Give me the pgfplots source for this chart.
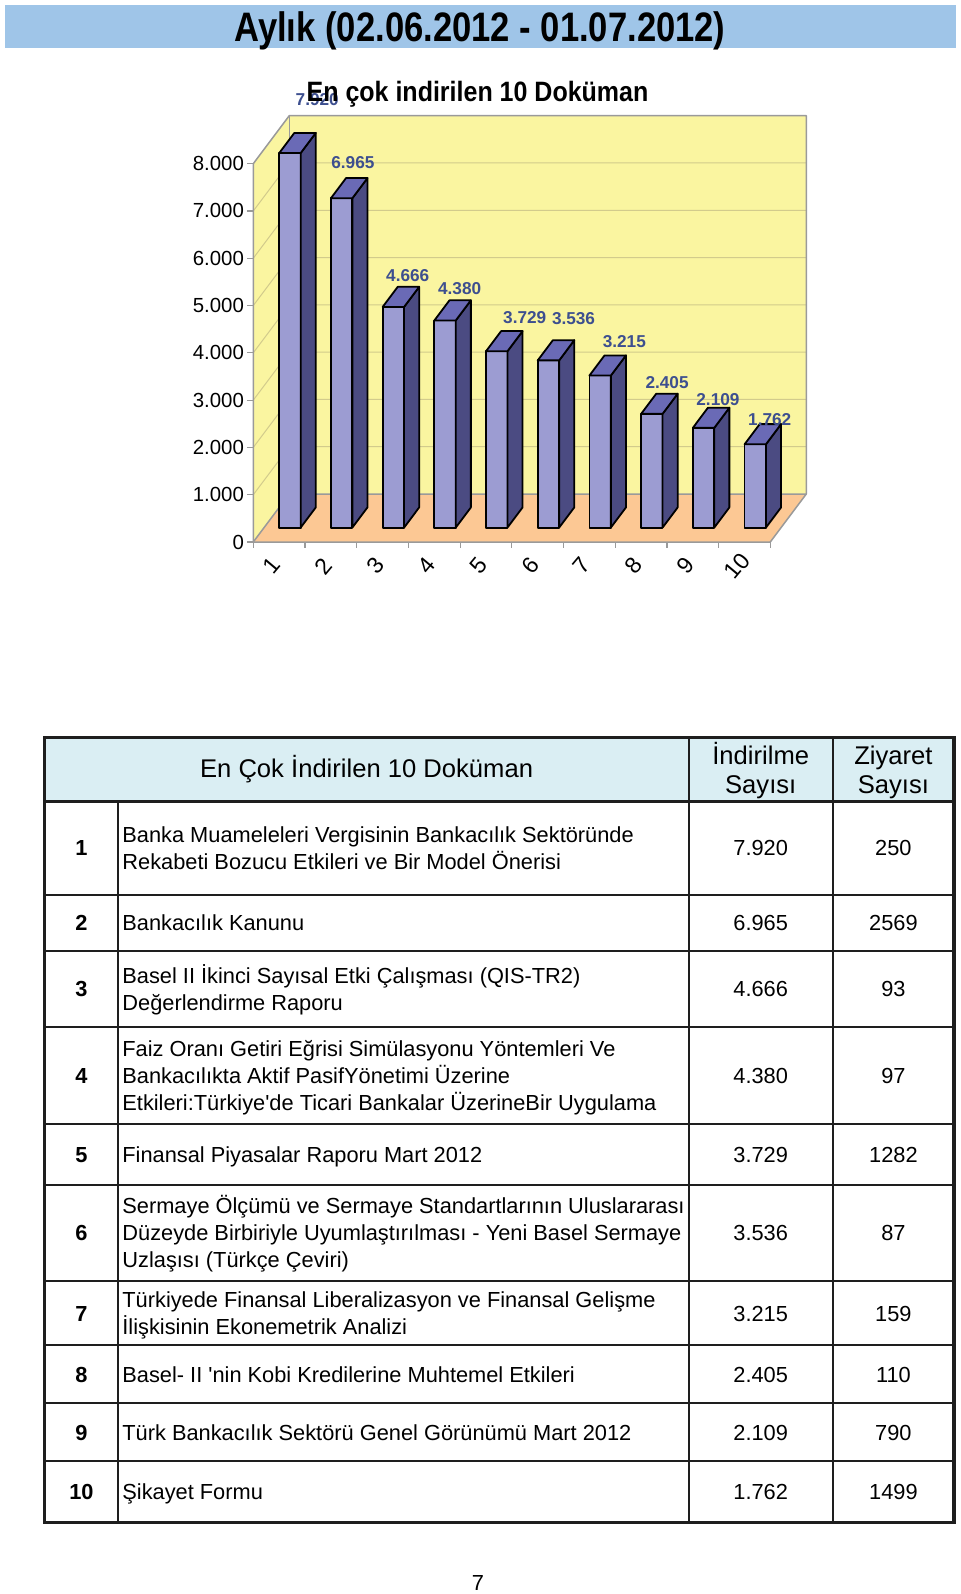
\documentclass[border=0pt]{standalone}
\usepackage{fontspec}
\setmainfont{Liberation Sans}
\usepackage{graphicx}
\usepackage{pgfplots}
\pgfplotsset{compat=1.18}
\usepackage{pgfplotstable}
\definecolor{band}{HTML}{9FC5E8}
\definecolor{hdr}{HTML}{DAEEF3}
\definecolor{wall}{HTML}{FAF5A0}
\definecolor{floorc}{HTML}{FCC894}
\definecolor{gridc}{HTML}{D2CB8C}
\definecolor{edge}{HTML}{9A9A9A}
\definecolor{bfront}{HTML}{9C9CD2}
\definecolor{bside}{HTML}{4B4B82}
\definecolor{btop}{HTML}{6A6AB6}
\definecolor{labc}{HTML}{3D4F8F}
\definecolor{tline}{HTML}{1E1E1E}
\newcommand{\fs}[2]{\fontsize{#1}{#2}\selectfont}
\pgfplotstableread{
i v lab lx ly
1 7920 7.920 1.737 9353
2 6965 6.965 2.426 8021
3 4666 4.666 3.487 5633
4 4380 4.380 4.491 5354
5 3729 3.729 5.750 4752
6 3536 3.536 6.694 4730
7 3215 3.215 7.677 4236
8 2405 2.405 8.503 3375
9 2109 2.109 9.487 3009
10 1762 1.762 10.489 2580
}\bars
\pgfplotsset{
  bfst/.style={draw=black, line width=0.9pt, line join=round, fill=bfront, mark=none, forget plot},
  bsst/.style={draw=black, line width=0.9pt, line join=round, fill=bside, mark=none, forget plot},
  btst/.style={draw=black, line width=0.9pt, line join=round, fill=btop, mark=none, forget plot},
}
\newcommand{\TL}[2]{\node[anchor=base west, inner sep=0pt, font=\fs{10.9}{13}] at (122,-#1) {#2};}
\newcommand{\NUM}[2]{\node[anchor=base, inner sep=0pt, font=\bfseries\fs{10.9}{13}] at (81.4,-#1) {#2};}
\newcommand{\VAL}[3]{\node[anchor=base, inner sep=0pt, font=\fs{10.9}{13}] at (760.7,-#1) {#2};
  \node[anchor=base, inner sep=0pt, font=\fs{10.9}{13}] at (893.4,-#1) {#3};}
\begin{document}
\begin{tikzpicture}[x=0.5pt, y=0.5pt]
\useasboundingbox (0,0) rectangle (960,-1594);
\fill[white] (0,0) rectangle (960,-1594);
% title band
\fill[band] (5,-5) rectangle (956,-48);
\begin{axis}[at={(126.65pt,-271pt)}, anchor=south west, scale only axis,
  width=276.49pt, height=213.16pt,
  xmin=0.5, xmax=11.196, ymin=0, ymax=9015, clip=false,
  axis line style={draw=none}, major tick length=0pt, tick style={draw=none},
  xtick={1,...,10}, ytick={0,1000,...,8000}, scaled y ticks=false,
  /pgf/number format/1000 sep={.}, /pgf/number format/assume math mode=true,
  yticklabel style={font=\fs{10.2}{12}, anchor=east, inner sep=0pt, xshift=-4.5pt},
  xticklabel style={font=\fs{11.5}{13}, anchor=center, inner sep=0pt, xshift=-3.75pt, yshift=-12pt, rotate=50},
]
% walls and floor
\fill[wall] (0.5,0) -- (0.5,8000) -- (1.196,9015) -- (1.196,1015) -- cycle;
\fill[wall] (1.196,1015) rectangle (11.196,9015);
\fill[floorc] (0.5,0) -- (10.5,0) -- (11.196,1015) -- (1.196,1015) -- cycle;
% grid lines
\draw[gridc, line width=0.5pt] (0.5,1000) -- (1.196,2015) -- (11.196,2015);
\draw[gridc, line width=0.5pt] (0.5,2000) -- (1.196,3015) -- (11.196,3015);
\draw[gridc, line width=0.5pt] (0.5,3000) -- (1.196,4015) -- (11.196,4015);
\draw[gridc, line width=0.5pt] (0.5,4000) -- (1.196,5015) -- (11.196,5015);
\draw[gridc, line width=0.5pt] (0.5,5000) -- (1.196,6015) -- (11.196,6015);
\draw[gridc, line width=0.5pt] (0.5,6000) -- (1.196,7015) -- (11.196,7015);
\draw[gridc, line width=0.5pt] (0.5,7000) -- (1.196,8015) -- (11.196,8015);
% edges
\draw[edge, line width=0.75pt, line join=round] (0.5,0) -- (0.5,8000) -- (1.196,9015) -- (11.196,9015) -- (11.196,1015) -- (10.5,0) -- cycle;
\draw[edge, line width=0.75pt] (0.5,0) -- (1.196,1015) -- (11.196,1015);
\draw[edge, line width=0.75pt] (1.196,1015) -- (1.196,9015);
\pgfplotsinvokeforeach{0.5,1.5,...,10.5}{\draw[edge, line width=0.6pt] (#1,0) -- ++(0pt,-3.2pt);}
\pgfplotsinvokeforeach{0,1000,...,8000}{\draw[edge, line width=0.6pt] (0.5,#1) -- ++(-3pt,0pt);}
% bars
\pgfplotsinvokeforeach{0,...,9}{%
  \pgfplotstablegetelem{#1}{v}\of\bars
  \edef\bv{\pgfplotsretval}%
  \pgfmathsetmacro\xl{#1+1+0.2088-0.207}%
  \pgfmathsetmacro\xr{#1+1+0.2088+0.207}%
  \pgfmathsetmacro\yt{304.5+\bv}%
  \pgfmathsetmacro\xlb{\xl+0.2923}%
  \pgfmathsetmacro\xrb{\xr+0.2923}%
  \pgfmathsetmacro\ytb{\yt+426.3}%
  \edef\temp{%
    \noexpand\addplot[bfst] coordinates {(\xl,304.5) (\xr,304.5) (\xr,\yt) (\xl,\yt)} -- cycle;
    \noexpand\addplot[bsst] coordinates {(\xr,304.5) (\xrb,730.8) (\xrb,\ytb) (\xr,\yt)} -- cycle;
    \noexpand\addplot[btst] coordinates {(\xl,\yt) (\xr,\yt) (\xrb,\ytb) (\xlb,\ytb)} -- cycle;
  }\temp
}
% value labels
\addplot[draw=none, mark=none, forget plot, nodes near coords, point meta=explicit symbolic,
  every node near coord/.append style={anchor=center, inner sep=0pt, text=labc, font=\bfseries\fs{8.6}{10}}]
  table[x=lx, y=ly, meta=lab] {\bars};
\end{axis}
% titles
\node[anchor=base, inner sep=0pt, font=\bfseries\fs{17.3}{20}] at (480,-41.1) {\scalebox{1}[1.19]{Aylık (02.06.2012 - 01.07.2012)}};
\node[anchor=base, inner sep=0pt, font=\bfseries\fs{12.5}{15}] at (477.5,-101.5) {\scalebox{1}[1.12]{En çok indirilen 10 Doküman}};
% table
\fill[hdr] (44.7,-737.3) rectangle (953.9,-801.4);
\foreach \yy in {894.9,950.9,1027.1,1123.7,1184.8,1281.4,1345.4,1403.4,1461.4}
  \draw[tline, line width=1pt] (44.7,-\yy) -- (953.9,-\yy);
\draw[tline, line width=1.4pt] (44.7,-801.4) -- (953.9,-801.4);
\draw[tline, line width=1pt] (118,-801.4) -- (118,-1522.4);
\draw[tline, line width=1pt] (688.5,-737.3) -- (688.5,-1522.4);
\draw[tline, line width=1pt] (832.9,-737.3) -- (832.9,-1522.4);
\draw[tline, line width=1.6pt] (44.7,-737.3) rectangle (953.9,-1522.4);
% header
\node[anchor=base, inner sep=0pt, font=\fs{12.8}{15}] at (366.6,-777) {En Çok İndirilen 10 Doküman};
\node[anchor=base, inner sep=0pt, font=\fs{12.8}{15}] at (760.7,-764) {İndirilme};
\node[anchor=base, inner sep=0pt, font=\fs{12.8}{15}] at (760.7,-793) {Sayısı};
\node[anchor=base, inner sep=0pt, font=\fs{12.8}{15}] at (893.4,-764) {Ziyaret};
\node[anchor=base, inner sep=0pt, font=\fs{12.8}{15}] at (893.4,-793) {Sayısı};
% rows
\NUM{855.95}{1}
\TL{842.45}{Banka Muameleleri Vergisinin Bankacılık Sektöründe}
\TL{869.45}{Rekabeti Bozucu Etkileri ve Bir Model Önerisi}
\VAL{855.95}{7.920}{250}
\NUM{930.7}{2}
\TL{930.7}{Bankacılık Kanunu}
\VAL{930.7}{6.965}{2569}
\NUM{996.8}{3}
\TL{983.3}{Basel II İkinci Sayısal Etki Çalışması (QIS-TR2)}
\TL{1010.3}{Değerlendirme Raporu}
\VAL{996.8}{4.666}{93}
\NUM{1083.2}{4}
\TL{1056.2}{Faiz Oranı Getiri Eğrisi Simülasyonu Yöntemleri Ve}
\TL{1083.2}{Bankacılıkta Aktif PasifYönetimi Üzerine}
\TL{1110.2}{Etkileri:Türkiye\textquotesingle de Ticari Bankalar ÜzerineBir Uygulama}
\VAL{1083.2}{4.380}{97}
\NUM{1162.05}{5}
\TL{1162.05}{Finansal Piyasalar Raporu Mart 2012}
\VAL{1162.05}{3.729}{1282}
\NUM{1240.9}{6}
\TL{1213.9}{Sermaye Ölçümü ve Sermaye Standartlarının Uluslararası}
\TL{1240.9}{Düzeyde Birbiriyle Uyumlaştırılması - Yeni Basel Sermaye}
\TL{1267.9}{Uzlaşısı (Türkçe Çeviri)}
\VAL{1240.9}{3.536}{87}
\NUM{1321.2}{7}
\TL{1307.7}{Türkiyede Finansal Liberalizasyon ve Finansal Gelişme}
\TL{1334.7}{İlişkisinin Ekonemetrik Analizi}
\VAL{1321.2}{3.215}{159}
\NUM{1382.2}{8}
\TL{1382.2}{Basel- II \textquotesingle nin Kobi Kredilerine Muhtemel Etkileri}
\VAL{1382.2}{2.405}{110}
\NUM{1440.2}{9}
\TL{1440.2}{Türk Bankacılık Sektörü Genel Görünümü Mart 2012}
\VAL{1440.2}{2.109}{790}
\NUM{1499.7}{10}
\TL{1499.7}{Şikayet Formu}
\VAL{1499.7}{1.762}{1499}
% page number
\node[anchor=base, inner sep=0pt, font=\fs{10.9}{13}] at (478,-1590) {7};
\end{tikzpicture}
\end{document}
